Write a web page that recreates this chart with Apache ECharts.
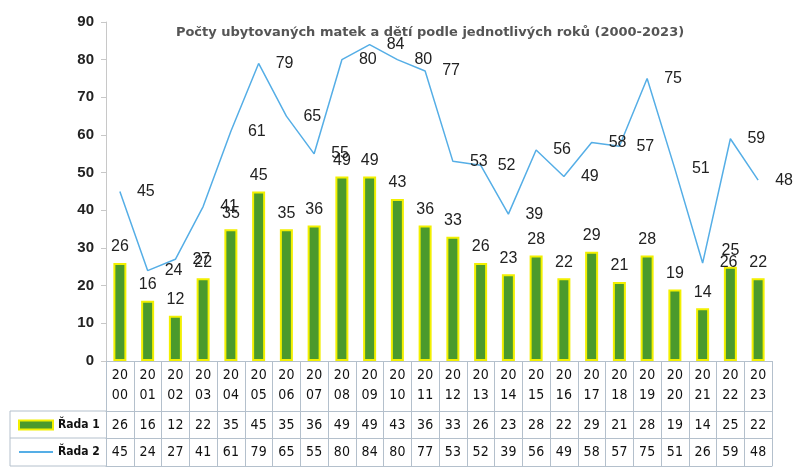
<!DOCTYPE html>
<html>
<head>
<meta charset="utf-8">
<script src="https://cdn.jsdelivr.net/npm/echarts@6/dist/echarts.min.js"></script>
<style>
  html, body { margin: 0; padding: 0; background: #fff; }
  #main { width: 794px; height: 468px; }
</style>
</head>
<body>
<div id="main"></div>
<script>
// roky 2000-2023
const years = ['2000','2001','2002','2003','2004','2005','2006','2007','2008','2009','2010','2011',
  '2012','2013','2014','2015','2016','2017','2018','2019','2020','2021','2022','2023']
// Řada 1 - sloupce
const rada1 = [26,16,12,22,35,45,35,36,49,49,43,36,33,26,23,28,22,29,21,28,19,14,25,22]
// Řada 2 - čára
const rada2 = [45,24,27,41,61,79,65,55,80,84,80,77,53,52,39,56,49,58,57,75,51,26,59,48]
const yTicks = [0,10,20,30,40,50,60,70,80,90]

const lineCol = '#b4c0cc'
const tableFont = '"DejaVu Sans Condensed", "DejaVu Sans"'

const chart = echarts.init(document.getElementById('main'))

// jeden řádek tabulky = další osa x pod grafem
function tableAxis(offset, values, margin) {
  return {
    type: 'category',
    data: years,
    position: 'bottom',
    offset: offset,
    axisLine: { show: true, lineStyle: { color: lineCol, width: 1 } },
    axisTick: { show: false },
    axisLabel: {
      show: values != null,
      interval: 0,
      margin: margin,
      fontFamily: tableFont,
      fontSize: 14,
      lineHeight: 16,
      color: '#111',
      formatter: function (v, i) { return values ? String(values[i]) : '' }
    }
  }
}

const option = {
  backgroundColor: '#fff',
  animation: false,
  title: {
    text: 'Počty ubytovaných matek a dětí podle jednotlivých roků (2000-2023)',
    left: 425,
    textAlign: 'center',
    top: 21,
    textStyle: { fontFamily: 'DejaVu Sans', fontSize: 13, fontWeight: 'bold', color: '#555' }
  },
  legend: {
    orient: 'vertical',
    left: 18,
    top: 417,
    padding: 0,
    itemWidth: 34,
    itemHeight: 9,
    itemGap: 11,
    data: [
      { name: 'Řada 1', icon: 'rect' },
      { name: 'Řada 2', itemStyle: { opacity: 0 } }
    ],
    textStyle: { fontFamily: tableFont, fontSize: 12, lineHeight: 16, color: '#111', fontWeight: 'bold' }
  },
  grid: { left: 106, right: 22, top: 22, bottom: 107, containLabel: false },
  xAxis: [
    {
      type: 'category',
      data: years,
      position: 'bottom',
      axisLine: { show: true, lineStyle: { color: lineCol } },
      // svislé čáry tabulky
      axisTick: { show: true, interval: 0, length: 105, lineStyle: { color: lineCol } },
      axisLabel: {
        interval: 0,
        margin: 4,
        fontFamily: tableFont,
        fontSize: 14,
        lineHeight: 20,
        color: '#111',
        formatter: function (v) { return v.slice(0, 2) + '\n' + v.slice(2) }
      }
    },
    tableAxis(50, rada1, 6),
    tableAxis(77, rada2, 6),
    tableAxis(105, null, 0)
  ],
  yAxis: {
    type: 'value',
    min: yTicks[0],
    max: yTicks[yTicks.length - 1],
    interval: 10,
    axisLine: { show: true, lineStyle: { color: '#c8c8c8' } },
    axisTick: { show: true, length: 5, lineStyle: { color: '#c8c8c8' } },
    axisLabel: { margin: 12, fontFamily: 'Liberation Sans', fontSize: 15, fontWeight: 'bold', color: '#222' },
    splitLine: { show: false }
  },
  series: [
    {
      name: 'Řada 1',
      type: 'bar',
      barWidth: 13,
      data: rada1,
      itemStyle: { color: '#4b9a2c', borderColor: '#f2f000', borderWidth: 2 },
      label: {
        show: true,
        position: 'top',
        distance: 8,
        fontFamily: 'Liberation Sans',
        fontSize: 16,
        color: '#222'
      }
    },
    {
      name: 'Řada 2',
      type: 'line',
      data: rada2,
      symbol: 'circle',
      symbolSize: 0,
      lineStyle: { color: '#55aee6', width: 1.5 },
      itemStyle: { color: '#55aee6' },
      label: {
        show: true,
        position: 'right',
        distance: 17,
        fontFamily: 'Liberation Sans',
        fontSize: 16,
        color: '#222'
      }
    }
  ],
  // levý sloupec tabulky s legendou
  graphic: [
    { type: 'line', shape: { x1: 10, y1: 411, x2: 106, y2: 411 }, style: { stroke: lineCol } },
    { type: 'line', shape: { x1: 10, y1: 438, x2: 106, y2: 438 }, style: { stroke: lineCol } },
    { type: 'line', shape: { x1: 10, y1: 466, x2: 106, y2: 466 }, style: { stroke: lineCol } },
    { type: 'line', shape: { x1: 10, y1: 411, x2: 10, y2: 466 }, style: { stroke: lineCol } }
  ]
}

chart.setOption(option)
</script>
</body>
</html>
